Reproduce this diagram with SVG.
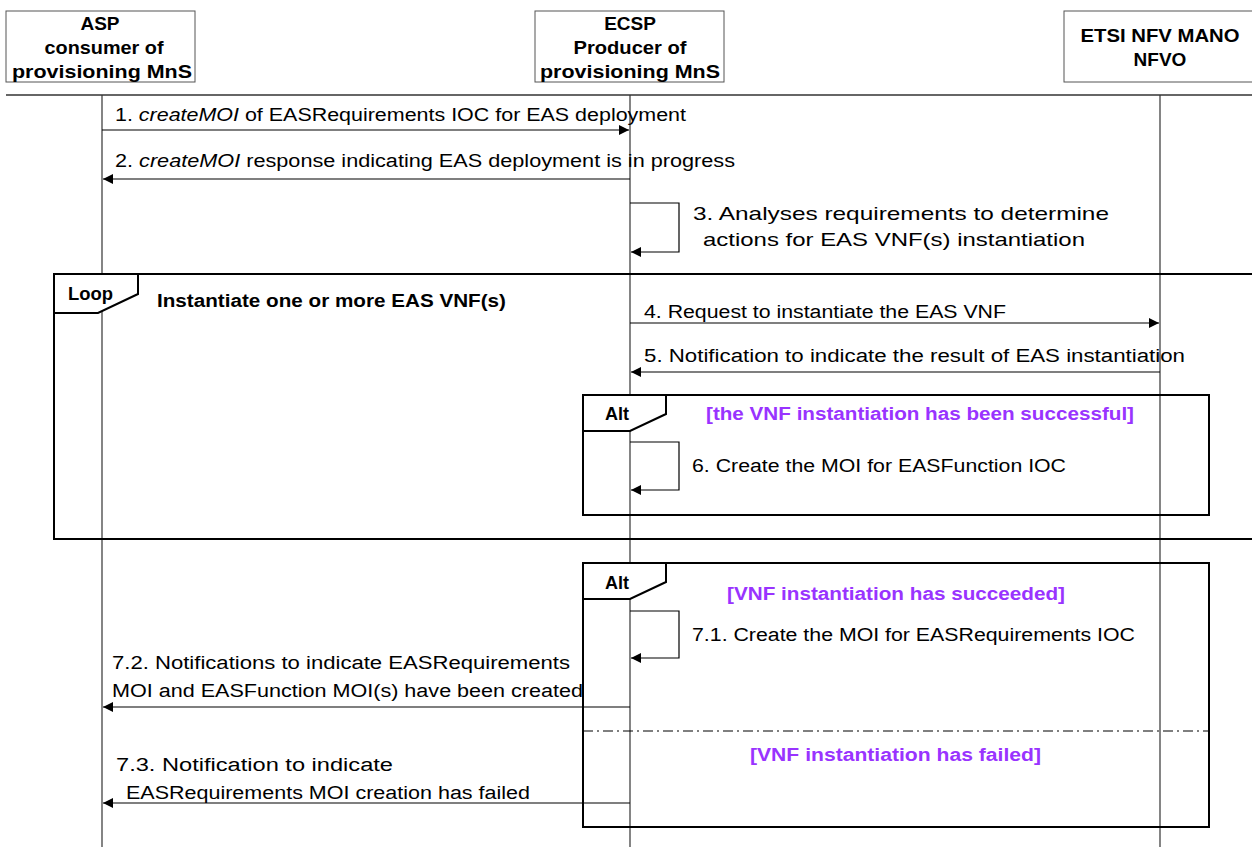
<svg xmlns="http://www.w3.org/2000/svg" width="1252" height="847" viewBox="0 0 1252 847">
<style>
  text { font-family: "Liberation Sans", Arial, sans-serif; fill: #000; }
  .hdr { font-size: 19px; font-weight: bold; text-anchor: middle; }
  .msg { font-size: 18px; }
  .big { font-size: 19px; }
  .bold { font-size: 18px; font-weight: bold; }
  .guard { font-size: 18px; font-weight: bold; fill: #9933FF; }
  .box { fill: #fff; stroke: #555; stroke-width: 1; }
  .life { stroke: #333; stroke-width: 1.2; fill: none; }
  .frame { fill: none; stroke: #000; stroke-width: 2; }
  .tab { fill: #fff; stroke: #000; stroke-width: 2; }
  .arrow { stroke: #000; stroke-width: 1.2; fill: none; marker-end: url(#ah); }
</style>
<defs>
  <marker id="ah" viewBox="0 0 10 10" refX="10" refY="5" markerWidth="12" markerHeight="10" markerUnits="userSpaceOnUse" orient="auto">
    <path d="M0,0 L10,5 L0,10 Z" fill="#000"/>
  </marker>
</defs>
<rect width="1252" height="847" fill="#fff"/>

<line x1="6" y1="95" x2="1252" y2="95" stroke="#333" stroke-width="1.5"/>

<g id="lifelines">
  <line class="life" x1="102" y1="95" x2="102" y2="847"/>
  <line class="life" x1="630" y1="95" x2="630" y2="847"/>
  <line class="life" x1="1160" y1="95" x2="1160" y2="847"/>
</g>

<g id="asp">
  <rect class="box" x="6" y="11" width="189" height="71"/>
  <text class="hdr" x="100" y="30">ASP</text>
  <text class="hdr" x="104" y="54" textLength="119" lengthAdjust="spacingAndGlyphs">consumer of</text>
  <text class="hdr" x="102" y="78" textLength="180" lengthAdjust="spacingAndGlyphs">provisioning MnS</text>
</g>
<g id="ecsp">
  <rect class="box" x="535" y="11" width="189" height="71"/>
  <text class="hdr" x="630" y="30">ECSP</text>
  <text class="hdr" x="630" y="54" textLength="113" lengthAdjust="spacingAndGlyphs">Producer of</text>
  <text class="hdr" x="630" y="78" textLength="180" lengthAdjust="spacingAndGlyphs">provisioning MnS</text>
</g>
<g id="nfvo">
  <rect class="box" x="1064" y="11" width="195" height="71"/>
  <text class="hdr" x="1160" y="42" textLength="159" lengthAdjust="spacingAndGlyphs">ETSI NFV MANO</text>
  <text class="hdr" x="1160" y="66">NFVO</text>
</g>

<g id="loop-frame">
  <rect class="frame" x="54" y="274" width="1210" height="265"/>
  <path class="tab" d="M54,274 L138,274 L138,294 L98,313 L54,313 Z"/>
  <text class="bold" x="68" y="300" textLength="45" lengthAdjust="spacingAndGlyphs">Loop</text>
  <text class="bold" x="157" y="307" textLength="349" lengthAdjust="spacingAndGlyphs">Instantiate one or more EAS VNF(s)</text>
</g>

<g id="alt-frame-1">
  <rect class="frame" x="583" y="395" width="626" height="120"/>
  <path class="tab" d="M583,395 L666,395 L666,414 L630,431 L583,431 Z"/>
  <text class="bold" x="605" y="420">Alt</text>
  <text class="guard" x="706" y="420" textLength="428" lengthAdjust="spacingAndGlyphs">[the VNF instantiation has been successful]</text>
</g>

<g id="alt-frame-2">
  <rect class="frame" x="583" y="563" width="626" height="264"/>
  <path class="tab" d="M583,563 L666,563 L666,582 L630,599 L583,599 Z"/>
  <text class="bold" x="605" y="589">Alt</text>
  <text class="guard" x="727" y="600" textLength="338" lengthAdjust="spacingAndGlyphs">[VNF instantiation has succeeded]</text>
  <line x1="583" y1="731" x2="1209" y2="731" stroke="#000" stroke-width="1.2" stroke-dasharray="10,4,2,4"/>
  <text class="guard" x="750" y="761" textLength="291" lengthAdjust="spacingAndGlyphs">[VNF instantiation has failed]</text>
</g>

<g id="connectors">
  <line class="arrow" x1="102" y1="130" x2="629" y2="130"/>
  <line class="arrow" x1="630" y1="179" x2="103" y2="179"/>
  <path class="arrow" d="M630,203 L679,203 L679,252 L631,252"/>
  <line class="arrow" x1="630" y1="323" x2="1159" y2="323"/>
  <line class="arrow" x1="1160" y1="372" x2="631" y2="372"/>
  <path class="arrow" d="M630,442 L679,442 L679,490 L631,490"/>
  <path class="arrow" d="M630,611 L679,611 L679,658 L631,658"/>
  <line class="arrow" x1="630" y1="707" x2="103" y2="707"/>
  <line class="arrow" x1="630" y1="803" x2="103" y2="803"/>
</g>

<g id="labels">
  <text class="msg" x="115" y="121" textLength="571" lengthAdjust="spacingAndGlyphs">1. <tspan font-style="italic">createMOI</tspan> of EASRequirements IOC for EAS deployment</text>
  <text class="msg" x="115" y="167" textLength="620" lengthAdjust="spacingAndGlyphs">2. <tspan font-style="italic">createMOI</tspan> response indicating EAS deployment is in progress</text>
  <text class="big" x="693" y="220" textLength="416" lengthAdjust="spacingAndGlyphs">3. Analyses requirements to determine</text>
  <text class="big" x="703" y="246" textLength="382" lengthAdjust="spacingAndGlyphs">actions for EAS VNF(s) instantiation</text>
  <text class="msg" x="644" y="318" textLength="362" lengthAdjust="spacingAndGlyphs">4. Request to instantiate the EAS VNF</text>
  <text class="msg" x="644" y="362" textLength="541" lengthAdjust="spacingAndGlyphs">5. Notification to indicate the result of EAS instantiation</text>
  <text class="msg" x="692" y="472" textLength="374" lengthAdjust="spacingAndGlyphs">6. Create the MOI for EASFunction IOC</text>
  <text class="msg" x="692" y="641" textLength="443" lengthAdjust="spacingAndGlyphs">7.1. Create the MOI for EASRequirements IOC</text>
  <text class="msg" x="112" y="669" textLength="458" lengthAdjust="spacingAndGlyphs">7.2. Notifications to indicate EASRequirements</text>
  <text class="msg" x="112" y="697" textLength="471" lengthAdjust="spacingAndGlyphs">MOI and EASFunction MOI(s) have been created</text>
  <text class="msg" x="116" y="771" textLength="277" lengthAdjust="spacingAndGlyphs">7.3. Notification to indicate</text>
  <text class="msg" x="126" y="799" textLength="404" lengthAdjust="spacingAndGlyphs">EASRequirements MOI creation has failed</text>
</g>
</svg>
